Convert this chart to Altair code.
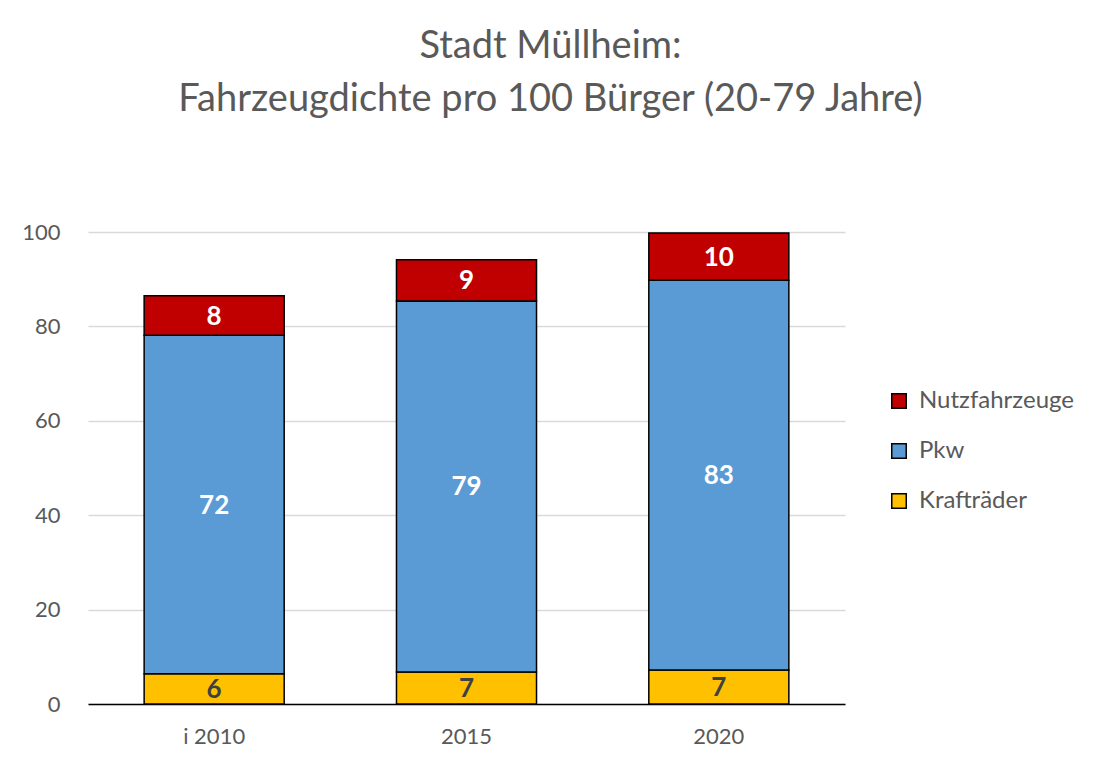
import altair as alt
import pandas as pd

years = ["i 2010", "2015", "2020"]
series = ["Krafträder", "Pkw", "Nutzfahrzeuge"]
kraftraeder = [6.4, 6.8, 7.2]
pkw = [71.7, 78.6, 82.6]
nutzfahrzeuge = [8.4, 8.7, 10.0]
colors = {"Nutzfahrzeuge": "#C00000", "Pkw": "#5B9BD5", "Krafträder": "#FFC000"}

rows = []
for i, y in enumerate(years):
    for k, (s, vals) in enumerate(zip(series, [kraftraeder, pkw, nutzfahrzeuge])):
        rows.append({"year": y, "series": s, "value": vals[i], "ord": k})
df = pd.DataFrame(rows)

FONT = "Lato"
legend_order = ["Nutzfahrzeuge", "Pkw", "Krafträder"]

base = alt.Chart(df).transform_stack(
    stack="value", groupby=["year"], sort=[alt.SortField("ord", order="ascending")], as_=["v0", "v1"]
).transform_calculate(mid="(datum.v0 + datum.v1) / 2")

x = alt.X("year:N", sort=years, title=None,
          scale=alt.Scale(paddingInner=0.445, paddingOuter=0.2225),
          axis=alt.Axis(labelAngle=0, ticks=False, domainColor="black", domainWidth=1.5,
                        labelColor="#595959", labelFontSize=22, labelFont=FONT, labelPadding=22,
                        grid=False))

yaxis = alt.Axis(values=[0, 20, 40, 60, 80, 100], domain=False, ticks=False,
                 gridColor="#d9d9d9", gridWidth=1.3, labelColor="#595959",
                 labelFontSize=22, labelFont=FONT, labelPadding=28)

bars = base.mark_bar(stroke="black", strokeWidth=1.5).encode(
    x=x,
    y=alt.Y("v0:Q", title=None, scale=alt.Scale(domain=[0, 100]), axis=yaxis),
    y2="v1:Q",
    color=alt.Color("series:N",
                    scale=alt.Scale(domain=legend_order, range=[colors[s] for s in legend_order]),
                    legend=alt.Legend(title=None, orient="none", legendX=799, legendY=157,
                                      symbolType="square", symbolSize=210, symbolStrokeColor="black",
                                      symbolStrokeWidth=1.5, labelFontSize=24, labelFont=FONT,
                                      labelColor="#595959", rowPadding=26, labelOffset=8,
                                      symbolOpacity=1)),
)

labels = base.mark_text(fontSize=26, fontWeight="bold", font=FONT, baseline="middle", dy=1).encode(
    x=x,
    y=alt.Y("mid:Q", title=None, scale=alt.Scale(domain=[0, 100]), axis=yaxis),
    text=alt.Text("value:Q", format=".0f"),
    color=alt.condition(alt.datum.series == "Krafträder", alt.value("#404040"), alt.value("white")),
)

chart = alt.layer(bars, labels).resolve_scale(color="independent").properties(
    width=757, height=472,
    background="white",
    title=alt.TitleParams(["Stadt Müllheim:", "Fahrzeugdichte pro 100 Bürger (20-79 Jahre)"],
                          font=FONT, fontSize=38, fontWeight="normal", color="#595959",
                          anchor="middle", dx=84, offset=102, lineHeight=53),
    autosize=alt.AutoSizeParams(type="none"),
    padding={"left": 80, "top": 224, "right": 247, "bottom": 62},
).configure_view(strokeWidth=0)

chart.save("out.html", embed_options={"renderer": "svg", "actions": False})
